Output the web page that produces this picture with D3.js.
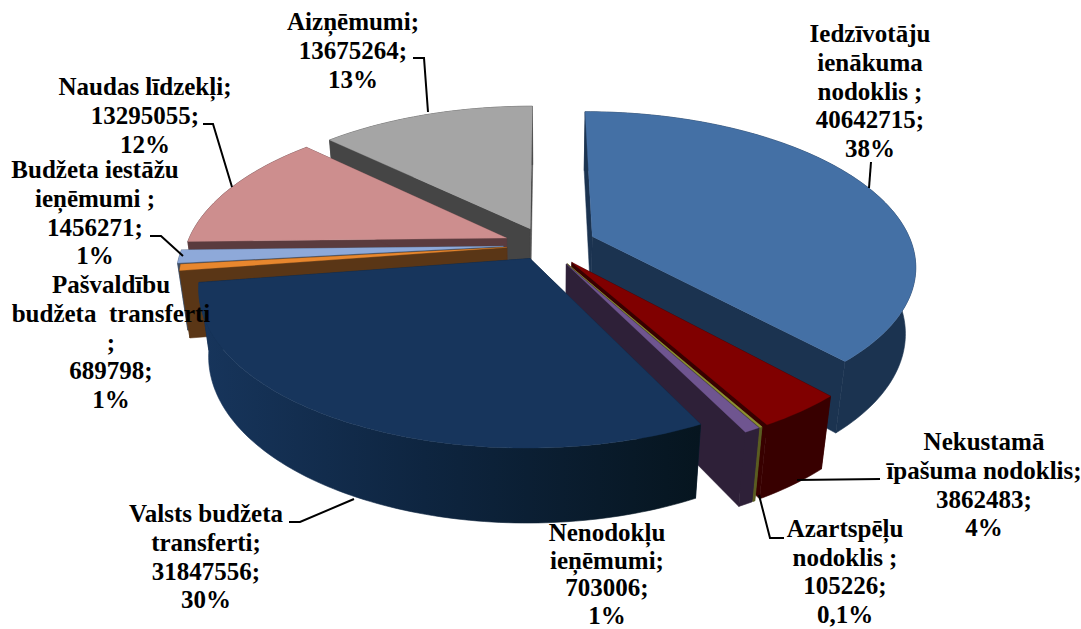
<!DOCTYPE html>
<html><head><meta charset="utf-8">
<script src="https://cdnjs.cloudflare.com/ajax/libs/d3/7.8.5/d3.min.js"></script>
<style>html,body{margin:0;padding:0;background:#fff;overflow:hidden}svg{display:block}</style>
</head><body><svg id="c" width="1081" height="629"></svg>
<script>
const names = ["Iedzīvotāju ienākuma nodoklis","Nekustamā īpašuma nodoklis","Azartspēļu nodoklis","Nenodokļu ieņēmumi","Valsts budžeta transferti","Pašvaldību budžeta transferti","Budžeta iestāžu ieņēmumi","Naudas līdzekļi","Aizņēmumi"];
const values = [40642715,3862483,105226,703006,31847556,689798,1456271,13295055,13675264];
const percents = ["38%","4%","0,1%","1%","30%","1%","1%","12%","13%"];
const explode = [.16,.14,.14,.14,.10,.12,.13,.13,.12];
const topColors = ["#4470a5","#800000","#8f9033","#6f5590","#17355c","#e8872e","#8ea9d9","#cd8e8e","#a5a5a5"];
const wallColors = ["#1b3350","#380000","#5a5c20","#2e2038","#0e2540","#5a3616","#3f4f66","#5a3b3e","#454545"];
const rimEnd = ["#1b3350","#380000","#5a5c20","#2e2038","#06151f","#5a3616","#3f4f66","#5a3b3e","#454545"];
const paintOrder = [8,7,6,5,0,1,2,3,4];
const labelLines = [
 ["Iedzīvotāju","ienākuma","nodoklis ;","40642715;","38%"],
 ["Nekustamā","īpašuma nodoklis;","3862483;","4%"],
 ["Azartspēļu","nodoklis ;","105226;","0,1%"],
 ["Nenodokļu","ieņēmumi;","703006;","1%"],
 ["Valsts budžeta","transferti;","31847556;","30%"],
 ["Pašvaldību","budžeta  transferti",";","689798;","1%"],
 ["Budžeta iestāžu","ieņēmumi ;","1456271;","1%"],
 ["Naudas līdzekļi;","13295055;","12%"],
 ["Aizņēmumi;","13675264;","13%"]];
const labelAnchors = [[870,42],[984,450],[845,537],[607,541],[206,522],[111,293],[95,178],[145,95],[353,30]];
const labelSpacing = [28.8,28.8,28.5,27.5,28.8,28.8,28.8,28.8,28.8];
const leaders = [
 [[871,162],[869,188]],
 [[880,479],[797,480]],
 [[784,538],[770,538],[759,495]],
 [],
 [[289,522],[300,522],[354,499]],
 [],
 [[150,236],[161,236],[183,256]],
 [[203,124],[213,124],[232,187]],
 [[413,58],[424,58],[428,112]]];

const svg = d3.select("#c");
const cx=545, cy=245, rx=320, ry=150, hh=68, p=.18, q=.028;
const sx=d3.scaleLinear().domain([-1,1]).range([-rx,rx]);
const sy=d3.scaleLinear().domain([-1,1]).range([-ry,ry]);
const project=(X,Y,Z)=>{const w=1-p*Y-q*Z;return [cx+sx(X)/w, cy+(sy(Y)-hh*Z)/w];};
const line=d3.line();
const arcs=d3.pie().sort(null)(values);
const defs=svg.append("defs");

function rimPts(a,e,Z){
  const m=(a.startAngle+a.endAngle)/2, ox=e*Math.sin(m), oy=-e*Math.cos(m);
  const n=Math.max(2,Math.ceil((a.endAngle-a.startAngle)/0.02));
  return d3.range(n+1).map(i=>{const t=a.startAngle+(a.endAngle-a.startAngle)*i/n;
    return project(ox+Math.sin(t),oy-Math.cos(t),Z);});
}
function apex(a,e,Z){const m=(a.startAngle+a.endAngle)/2;return project(e*Math.sin(m),-e*Math.cos(m),Z);}

paintOrder.forEach(i=>{
  const a=arcs[i], e=explode[i], g=svg.append("g");
  const top=rimPts(a,e,0), bot=rimPts(a,e,-1), A0=apex(a,e,0), A1=apex(a,e,-1);
  const x0=d3.min(top,d=>d[0]), x1=d3.max(top,d=>d[0]);
  const gr=defs.append("linearGradient").attr("id","rim"+i).attr("gradientUnits","userSpaceOnUse")
    .attr("x1",x0).attr("x2",x1).attr("y1",0).attr("y2",0);
  gr.append("stop").attr("offset",0).attr("stop-color",i==4?"#17355c":wallColors[i]);
  gr.append("stop").attr("offset",i==4?.45:.5).attr("stop-color",i==4?"#0e2540":wallColors[i]);
  gr.append("stop").attr("offset",1).attr("stop-color",rimEnd[i]);
  const L=top.length-1;
  [[A0,top[0],bot[0],A1],[A0,top[L],bot[L],A1]].forEach(f=>{
    g.append("path").attr("d",line(f)+"Z").attr("fill",wallColors[i]).attr("stroke",wallColors[i]).attr("stroke-width",.5);
  });
  g.append("path").attr("d",line(top.concat(bot.slice().reverse()))+"Z").attr("fill",`url(#rim${i})`).attr("stroke",`url(#rim${i})`).attr("stroke-width",.6);
  g.append("path").attr("d",line([A0].concat(top))+"Z").attr("fill",topColors[i]).attr("stroke",topColors[i]).attr("stroke-width",.3);
});

leaders.forEach(l=>{ if(l.length) svg.append("path").attr("d",line(l)).attr("fill","none").attr("stroke","#000").attr("stroke-width",2);});

labelLines.forEach((ls,i)=>{
  const t=svg.append("text").attr("text-anchor","middle").attr("font-family","'Liberation Serif',serif")
    .attr("font-weight","bold").attr("font-size",25).attr("fill","#000").style("white-space","pre");
  ls.forEach((s,j)=>t.append("tspan").attr("x",labelAnchors[i][0]).attr("y",labelAnchors[i][1]+j*labelSpacing[i]).text(s));
});
</script></body></html>
